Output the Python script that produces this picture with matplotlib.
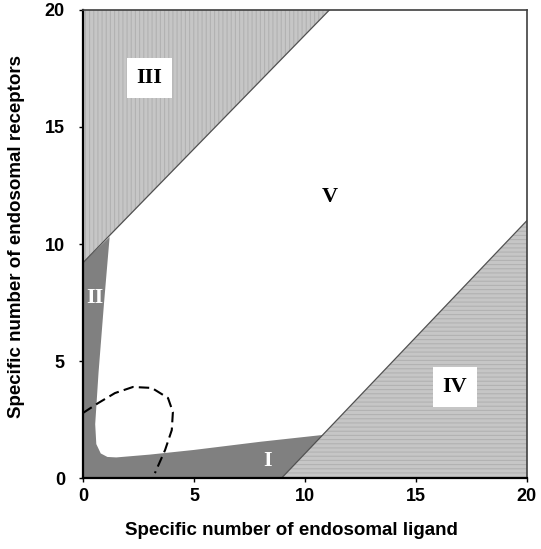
import matplotlib.pyplot as plt
from matplotlib.patches import Polygon

plt.rcParams['hatch.linewidth'] = 0.8

# boundary lines of regions III and IV (ligand, receptors)
line3_x = [0, 11.1]
line3_y = [9.2, 20]
line4_x = [8.95, 20]
line4_y = [0, 11.0]

# shaded region I + II (dark gray)
dark_x = [0, 8.95, 10.8, 8.0, 5.0, 3.0, 1.5, 1.1, 0.8, 0.6, 0.55, 0.7, 0.95, 1.2, 0]
dark_y = [0, 0, 1.84, 1.55, 1.2, 1.0, 0.88, 0.9, 1.05, 1.45, 2.3, 4.5, 7.5, 10.3, 9.2]

# dashed curve
dash_x = [0.0, 0.68, 1.44, 2.25, 3.1, 3.83, 4.05, 4.0, 3.7, 3.24]
dash_y = [2.78, 3.2, 3.63, 3.89, 3.85, 3.42, 2.82, 2.05, 1.2, 0.21]

ticks = [0, 5, 10, 15, 20]

fig = plt.figure(figsize=(5.41, 5.49), dpi=100)
ax = fig.add_axes([0.1534, 0.1293, 0.8206, 0.8525])

# region III
p3 = Polygon([(line3_x[0], line3_y[0]), (line3_x[1], line3_y[1]), (0, 20)],
             closed=True, facecolor='#c6c6c6', edgecolor='#b2b2b2', hatch='||||', lw=0)
ax.add_patch(p3)
# region IV
p4 = Polygon([(line4_x[0], line4_y[0]), (20, 0), (line4_x[1], line4_y[1])],
             closed=True, facecolor='#c6c6c6', edgecolor='#b2b2b2', hatch='----', lw=0)
ax.add_patch(p4)
# region I/II
ax.add_patch(Polygon(list(zip(dark_x, dark_y)), closed=True, facecolor='#808080', lw=0))

ax.plot(line3_x, line3_y, color='#505050', lw=0.9)
ax.plot(line4_x, line4_y, color='#505050', lw=0.9)
ax.plot(dash_x, dash_y, color='black', lw=1.5, ls=(0, (5, 2.5)))

serif = dict(family='Liberation Serif', fontweight='bold', fontsize=16, ha='center', va='center')
box = dict(facecolor='white', edgecolor='none', pad=7)
ax.text(3.0, 17.1, 'III', bbox=box, **serif)
ax.text(16.75, 3.9, 'IV', bbox=box, **serif)
ax.text(11.1, 12.0, 'V', **serif)
ax.text(0.52, 7.7, 'II', color='white', **serif)
ax.text(8.3, 0.72, 'I', color='white', **serif)

ax.set_xlim(0, 20)
ax.set_ylim(0, 20)
ax.set_xticks(ticks)
ax.set_yticks(ticks)
ax.tick_params(direction='out', length=3, width=1, labelsize=13)
ax.tick_params(axis='x', pad=4)
ax.tick_params(axis='y', pad=10)
for lab in ax.get_xticklabels() + ax.get_yticklabels():
    lab.set_fontweight('bold')
    lab.set_family('Liberation Sans')

for s in ['left', 'bottom']:
    ax.spines[s].set_linewidth(1.6)
    ax.spines[s].set_color('black')
for s in ['top', 'right']:
    ax.spines[s].set_linewidth(1.2)
    ax.spines[s].set_color('#404040')

ax.set_xlabel('Specific number of endosomal ligand', fontsize=13.5, fontweight='bold',
              family='Liberation Sans')
ax.set_ylabel('Specific number of endosomal receptors', fontsize=13.5, fontweight='bold',
              family='Liberation Sans')
ax.xaxis.set_label_coords(0.47, -0.095)
ax.yaxis.set_label_coords(-0.13, 0.517)

fig.savefig('out.png', dpi=100)
